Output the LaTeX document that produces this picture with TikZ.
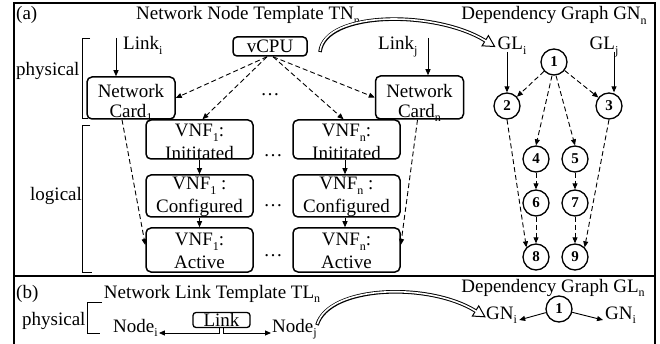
\documentclass[tikz,border=0pt]{standalone}
\usepackage{fontspec}
\setmainfont{Liberation Serif}
\usetikzlibrary{arrows.meta,calc}
\newcommand\sbs[1]{\raisebox{-4.5pt}{\fontsize{12}{12}\selectfont #1}}
\newcommand\hollowarr[5]{%
  \draw[line width=3.6pt] (#1) .. controls (#2) and (#3) .. (#4);
  \draw[line width=1pt, fill=white, line join=miter] ($(#4)!11pt!(#5)$) -- ($(#4)!6pt!90:(#5)$) -- ($(#4)!6pt!-90:(#5)$) -- cycle;
  \draw[white, line width=1.6pt, shorten <=1pt] (#1) .. controls (#2) and (#3) .. (#4) -- ($(#4)!3pt!(#5)$);
}
\begin{document}
\begin{tikzpicture}[x=1pt,y=-1pt,
  every node/.style={font=\fontsize{19}{23}\selectfont, inner sep=0pt},
  rbox/.style={draw, line width=1.5pt, rounded corners=5pt},
  txt/.style={align=center},
  gnode/.style={draw, circle, line width=1.3pt, minimum size=26pt, font=\fontsize{15}{15}\selectfont\bfseries},
  arr/.style={-{Triangle[length=6pt,width=5pt]}, line width=0.9pt},
  darr/.style={arr, dash pattern=on 5pt off 3pt},
  brk/.style={line width=0.8pt},
]
\useasboundingbox (0,0) rectangle (660,344);
% frame
\draw[line width=2pt] (14,346) -- (14,3) -- (655,3) -- (655,346);
\draw[line width=2pt] (14,276) -- (655,276);

% ---------- (a) ----------
\node[anchor=base west] (la) at (16,20) {(a)};
\node[anchor=base] (ttn) at (248,20) {Network Node Template TN\sbs{n}};
\node[anchor=base] (tgn) at (554,20) {Dependency Graph GN\sbs{n}};

\node[anchor=base west] (lphys) at (16,76) {physical};
\draw[brk] (90,38) -- (82,38) -- (82,118) -- (88,118);
\node[anchor=base west] (llog) at (30,201) {logical};
\draw[brk] (90,125) -- (82,125) -- (82,272) -- (92,272);

% links
\node[anchor=base west] (tli) at (123,50) {Link\sbs{i}};
\coordinate (li) at (116,38);
\node[anchor=base west] (tlj) at (378,50) {Link\sbs{j}};
\coordinate (lj) at (428,38);

% vCPU
\node[rbox, rounded corners=4pt, minimum width=74pt, minimum height=19pt] (vcpu) at (270,46.5) {vCPU};

% network cards
\node[rbox, minimum width=88pt, minimum height=42pt] (c1) at (131,98) {};
\node[txt, font=\fontsize{19}{20}\selectfont] (c1t) at (131,103) {Network\\Card\sbs{1}};
\node[rbox, minimum width=88pt, minimum height=43pt] (cn) at (419.5,97.5) {};
\node[txt, font=\fontsize{19}{20}\selectfont] (cnt) at (419.5,103) {Network\\Card\sbs{n}};
\node (d0) at (270,95) {\dots};

% VNF boxes column 1
\node[rbox, minimum width=107pt, minimum height=39pt] (v1i) at (199.5,139.5) {};
\node[txt] (v1it) at (199.5,142) {VNF\sbs{1}:\\Inititated};
\node[rbox, minimum width=107pt, minimum height=42pt] (v1c) at (199.5,196) {};
\node[txt] (v1ct) at (199.5,197.3) {VNF\sbs{1} :\\Configured};
\node[rbox, minimum width=107pt, minimum height=44pt] (v1a) at (199.5,250) {};
\node[txt] (v1at) at (199.5,251.2) {VNF\sbs{1}:\\Active};
% column n
\node[rbox, minimum width=107pt, minimum height=39pt] (vni) at (346.5,139.5) {};
\node[txt] (vnit) at (346.5,142) {VNF\sbs{n}:\\Inititated};
\node[rbox, minimum width=107pt, minimum height=42pt] (vnc) at (346.5,196) {};
\node[txt] (vnct) at (346.5,197.3) {VNF\sbs{n} :\\Configured};
\node[rbox, minimum width=107pt, minimum height=44pt] (vna) at (346.5,250) {};
\node[txt] (vnat) at (346.5,251.2) {VNF\sbs{n}:\\Active};
\node (d1) at (273,156) {\dots};
\node (d2) at (273,206) {\dots};
\node (d3) at (273,256) {\dots};

% arrows (a)
\draw[arr] (li) -- (li |- c1.north);
\draw[arr] (lj) -- (lj |- cn.north);
\draw[darr] ([xshift=-3pt]vcpu.south) -- (c1.east);
\draw[darr] ([xshift=-3pt]vcpu.south) -- ([xshift=3pt]v1i.north);
\draw[darr] ([xshift=3pt]vcpu.south) -- ([xshift=-3pt]vni.north);
\draw[darr] ([xshift=3pt]vcpu.south) -- (cn.west);
\draw[darr] ([xshift=-9pt]c1.south) -- ([yshift=5pt]v1a.west);
\draw[darr] ([xshift=-2pt]cn.south) -- ([yshift=5pt]vna.east);
\draw[arr] (v1i.south) -- (v1c.north);
\draw[arr] (v1c.south) -- (v1a.north);
\draw[arr] ([xshift=-1.5pt]vni.south) -- ([xshift=-1.5pt]vnc.north);
\draw[arr] ([xshift=-1.5pt]vnc.south) -- ([xshift=-1.5pt]vna.north);

% hollow arrow (a)
\coordinate (ha0) at (320,52);
\coordinate (ha1) at (324.7,10.64);
\coordinate (ha2) at (435.43,9.93);
\coordinate (ha3) at (485.25,40.72);
\coordinate (ha4) at (488.43,42.69);
\hollowarr{ha0}{ha1}{ha2}{ha3}{ha4}

% dependency graph GN
\node[anchor=base] (tgli) at (512,50) {GL\sbs{i}};
\node[anchor=base] (tglj) at (604,50) {GL\sbs{j}};
\node[gnode] (n1) at (554,62) {1};
\node[gnode] (n2) at (507,106) {2};
\node[gnode] (n3) at (609,106) {3};
\node[gnode] (n4) at (536,159) {4};
\node[gnode] (n5) at (575,159) {5};
\node[gnode] (n6) at (536,203) {6};
\node[gnode] (n7) at (575,203) {7};
\node[gnode] (n8) at (536,257) {8};
\node[gnode] (n9) at (575,257) {9};
\draw[arr] ([yshift=-2pt]tgli.base -| n2) -- (n2);
\draw[arr] ([xshift=5pt,yshift=-2pt]n3.north |- tglj.base) -- ([xshift=5pt]n3.north);
\draw[darr] (n1) -- (n2);
\draw[darr] (n1) -- (n3);
\draw[darr] ([xshift=-2pt]n1.south) -- (n4.north);
\draw[darr] ([xshift=2pt]n1.south) -- (n5.north);
\draw[darr] (n4) -- (n6);
\draw[darr] (n5) -- (n7);
\draw[darr] (n6) -- (n8);
\draw[darr] (n7) -- (n9);
\draw[darr] (n2.south) -- (n8.north west);
\draw[darr] (n3.south) -- (n9.north east);

% ---------- (b) ----------
\node[anchor=base west] (lb) at (16,298) {(b)};
\node[anchor=base] (ttl) at (212,298) {Network Link Template TL\sbs{n}};
\node[anchor=base] (tgl) at (553,292) {Dependency Graph GL\sbs{n}};
\node[anchor=base west] (lphysb) at (22,325) {physical};
\draw[brk] (102,302) -- (87,302) -- (87,333) -- (100,333);
\node[anchor=base west] (ni) at (113,332) {Node\sbs{i}};
\node[anchor=base west] (nj) at (272,332) {Node\sbs{j}};
\node[rbox, line width=1.3pt, rounded corners=3pt, minimum width=57pt, minimum height=15pt] (lk) at (221.5,320) {Link};
\draw[arr] ([xshift=-2pt]lk.south) |- ([xshift=1pt,yshift=-1pt]ni.base east);
\draw[arr] ([xshift=2pt]lk.south) |- ([xshift=-1pt,yshift=-1pt]nj.base west);

\coordinate (hb0) at (317,325);
\coordinate (hb1) at (329.09,285.01);
\coordinate (hb2) at (429.40,282.21);
\coordinate (hb3) at (475.56,310.97);
\coordinate (hb4) at (479.03,313.14);
\hollowarr{hb0}{hb1}{hb2}{hb3}{hb4}

\node[gnode] (m1) at (559,309) {1};
\node[anchor=base west] (gni1) at (486,319) {GN\sbs{i}};
\node[anchor=base west] (gni2) at (605,319) {GN\sbs{i}};
\draw[arr] (m1) -- ([xshift=2pt,yshift=-1pt]gni1.base east);
\draw[arr] (m1) -- ([xshift=-2pt,yshift=-1pt]gni2.base west);
\end{tikzpicture}
\end{document}
